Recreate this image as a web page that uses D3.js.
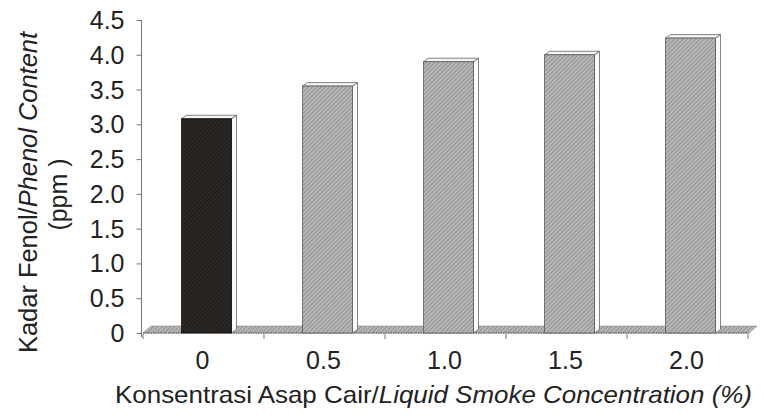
<!DOCTYPE html>
<html>
<head>
<meta charset="utf-8">
<script src="https://cdn.jsdelivr.net/npm/d3@7"></script>
<style>
  html, body { margin: 0; padding: 0; background: #fff; }
  svg { display: block; }
  text { font-family: "Liberation Sans", Arial, sans-serif; fill: #222; }
</style>
</head>
<body>
<svg id="chart" width="764" height="417"></svg>
<script>
// ---- data ----
const categories = ["0", "0.5", "1.0", "1.5", "2.0"];
const phenolValues = [3.08, 3.55, 3.9, 4.0, 4.24];
const yTickValues = [0, 0.5, 1.0, 1.5, 2.0, 2.5, 3.0, 3.5, 4.0, 4.5];
const yTitleMain = "Kadar Fenol/";
const yTitleItalic = "Phenol Content";
const yTitleUnit = "(ppm )";
const xTitleMain = "Konsentrasi Asap Cair/";
const xTitleItalic = "Liquid Smoke Concentration (%)";

// ---- layout ----
const plot = { left: 143, right: 748, top: 20, bottom: 333 };
const depthBar = { dx: 5, dy: -3.5 };
const depthFloor = { dx: 8, dy: -7 };
const barWidth = 50;
const barShift = 3;

const svg = d3.select("#chart");
const defs = svg.append("defs");

// hatched fills
const pg = defs.append("pattern").attr("id", "hatchGray")
  .attr("patternUnits", "userSpaceOnUse").attr("width", 3).attr("height", 3)
  .attr("patternTransform", "rotate(45)");
pg.append("rect").attr("width", 3).attr("height", 3).attr("fill", "#b9b9b9");
pg.append("rect").attr("width", 1.1).attr("height", 3).attr("fill", "#939393");

const pb = defs.append("pattern").attr("id", "hatchBlack")
  .attr("patternUnits", "userSpaceOnUse").attr("width", 3).attr("height", 3)
  .attr("patternTransform", "rotate(45)");
pb.append("rect").attr("width", 3).attr("height", 3).attr("fill", "#2c2825");
pb.append("rect").attr("width", 1).attr("height", 3).attr("fill", "#1c1a18");

const x = d3.scaleBand().domain(categories).range([plot.left, plot.right]).padding(0);
const y = d3.scaleLinear().domain([0, 4.5]).range([plot.bottom, plot.top]);

// ---- floor ----
const fx0 = plot.left, fx1 = plot.right + 1, fy = y(0);
svg.append("path")
  .attr("d", `M${fx0},${fy} L${fx0 + depthFloor.dx},${fy + depthFloor.dy} L${fx1 + depthFloor.dx},${fy + depthFloor.dy} L${fx1},${fy} Z`)
  .attr("fill", "url(#hatchGray)")
  .attr("stroke", "#8a8a8a").attr("stroke-width", 0.6);
svg.append("line")
  .attr("x1", fx0).attr("x2", fx1).attr("y1", fy).attr("y2", fy)
  .attr("stroke", "#555").attr("stroke-width", 1.2).attr("stroke-dasharray", "1.5,1");

// ---- y axis ----
const yAxis = d3.axisLeft(y)
  .tickValues(yTickValues)
  .tickSize(5)
  .tickPadding(12)
  .tickFormat(d => d === 0 ? "0" : d3.format(".1f")(d));
const gy = svg.append("g").attr("transform", `translate(${plot.left - 1.5},0)`).call(yAxis);
gy.select(".domain").remove();
gy.selectAll(".tick line").attr("stroke", "#777");
gy.selectAll(".tick text").attr("font-size", 25).attr("fill", "#222")
  .attr("font-family", "'Liberation Sans', Arial, sans-serif")
  .attr("dy", "0.34em");
svg.append("line")
  .attr("x1", plot.left - 1.5).attr("x2", plot.left - 1.5)
  .attr("y1", y(4.5)).attr("y2", y(0) + 4)
  .attr("stroke", "#777").attr("stroke-width", 1);

// ---- x axis ticks ----
const xTickPos = categories.map(c => x(c)).concat([x(categories[categories.length - 1]) + x.bandwidth()]);
svg.append("g").selectAll("line").data(xTickPos).join("line")
  .attr("x1", d => d).attr("x2", d => d)
  .attr("y1", y(0) + 1).attr("y2", y(0) + 6)
  .attr("stroke", "#777");

svg.append("g").selectAll("text").data(categories).join("text")
  .attr("x", d => x(d) + x.bandwidth() / 2 - 1)
  .attr("y", 369)
  .attr("text-anchor", "middle")
  .attr("font-size", 25)
  .text(d => d);

// ---- bars ----
const bars = svg.append("g");
categories.forEach((c, i) => {
  const v = phenolValues[i];
  const x0 = x(c) + x.bandwidth() / 2 + barShift - barWidth / 2;
  const x1 = x0 + barWidth;
  const yt = y(v), yb = y(0);
  const g = bars.append("g");
  g.append("path")
    .attr("d", `M${x1},${yb} L${x1 + depthBar.dx},${yb + depthBar.dy} L${x1 + depthBar.dx},${yt + depthBar.dy} L${x1},${yt} Z`)
    .attr("fill", "#fafafa").attr("stroke", "#666").attr("stroke-width", 0.8);
  g.append("path")
    .attr("d", `M${x0},${yt} L${x0 + depthBar.dx},${yt + depthBar.dy} L${x1 + depthBar.dx},${yt + depthBar.dy} L${x1},${yt} Z`)
    .attr("fill", "#f4f4f4").attr("stroke", "#666").attr("stroke-width", 0.8);
  g.append("rect")
    .attr("x", x0).attr("y", yt).attr("width", barWidth).attr("height", yb - yt)
    .attr("fill", i === 0 ? "url(#hatchBlack)" : "url(#hatchGray)")
    .attr("stroke", i === 0 ? "#111" : "#5a5a5a").attr("stroke-width", 0.8);
});

// ---- axis titles ----
const yt1 = svg.append("text")
  .attr("transform", `translate(37,192.5) rotate(-90)`)
  .attr("text-anchor", "middle").attr("font-size", 25)
  .attr("textLength", 321).attr("lengthAdjust", "spacingAndGlyphs");
yt1.append("tspan").text(yTitleMain);
yt1.append("tspan").attr("font-style", "italic").text(yTitleItalic);

svg.append("text")
  .attr("transform", `translate(67,194.5) rotate(-90)`)
  .attr("text-anchor", "middle").attr("font-size", 25)
  .text(yTitleUnit);

const xt = svg.append("text")
  .attr("x", 115).attr("y", 403)
  .attr("text-anchor", "start").attr("font-size", 24)
  .attr("textLength", 637).attr("lengthAdjust", "spacingAndGlyphs");
xt.append("tspan").text(xTitleMain);
xt.append("tspan").attr("font-style", "italic").text(xTitleItalic);
</script>
</body>
</html>
